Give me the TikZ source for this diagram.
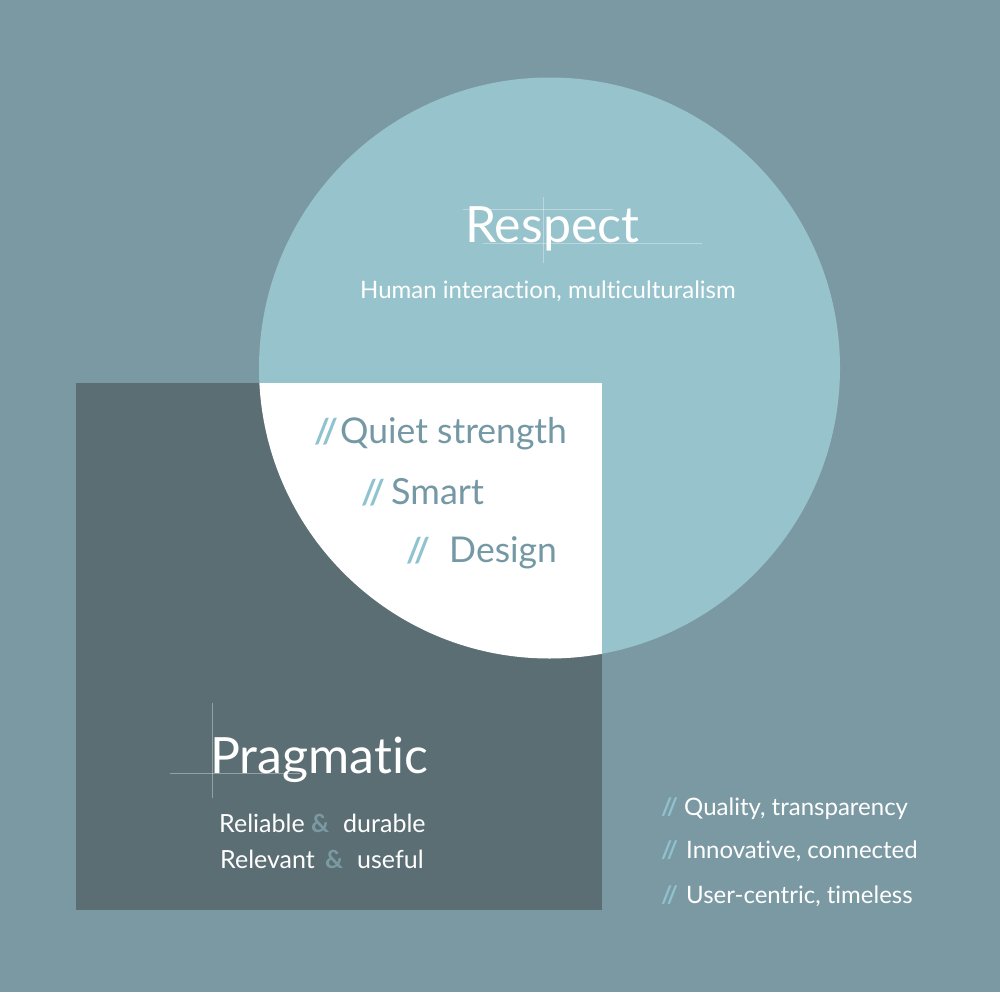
\documentclass[tikz,border=0pt]{standalone}
\usepackage{fontspec}
\setmainfont{Lato}[Ligatures={NoCommon}]
\definecolor{bgc}{HTML}{7B99A3}
\definecolor{circc}{HTML}{97C3CC}
\definecolor{sqc}{HTML}{5B6E74}
\definecolor{midtxt}{HTML}{7598A5}
\definecolor{slashc}{HTML}{8FC3CF}
\definecolor{ampc}{HTML}{7B99A3}
\tikzset{
  txt/.style={inner sep=0pt, anchor=base west},
  guide/.style={white, opacity=0.35, line width=0.8pt},
}
\begin{document}
\begin{tikzpicture}[x=1pt,y=-1pt]
\fill[bgc] (0,0) rectangle (1000,992);
\useasboundingbox (0,0) rectangle (1000,992);
\fill[circc] (549.5,368) circle[radius=290.5pt];
\fill[sqc] (76,383) rectangle (602,910);
\begin{scope}
  \clip (549.5,368) circle[radius=290.5pt];
  \fill[white] (76,383) rectangle (602,910);
\end{scope}
% guide lines
\draw[guide] (543,197) -- (543,263);
\draw[guide] (463,209) -- (613,209);
\draw[guide] (483,243) -- (702,243);
\draw[guide] (212,703) -- (212,798);
\draw[guide] (170,773) -- (300,773);
% Respect
\node[txt, font=\fontsize{50}{50}\selectfont, white] (respect) at (465,243) {Respect};
\node[txt, font=\fontsize{24}{24}\selectfont, white] (human) at (360,298) {Human interaction, multiculturalism};
% centre
\node[txt, font=\fontsize{34}{34}\selectfont\bfseries, slashc] (s1) at (314,443) {//};
\node[txt, font=\fontsize{35.5}{35}\selectfont, midtxt] (quiet) at (340,443) {Quiet strength};
\node[txt, font=\fontsize{34}{34}\selectfont\bfseries, slashc] (s2) at (361,504) {//};
\node[txt, font=\fontsize{36}{36}\selectfont, midtxt] (smart) at (391,504) {Smart};
\node[txt, font=\fontsize{34}{34}\selectfont\bfseries, slashc] (s3) at (406,562) {//};
\node[txt, font=\fontsize{35.5}{35}\selectfont, midtxt] (design) at (449,562) {Design};
% Pragmatic
\node[txt, font=\fontsize{50}{50}\selectfont, white] (prag) at (210,773) {Pragmatic};
\node[txt, font=\fontsize{25}{25}\selectfont, white] (rel1a) at (219,832) {Reliable};
\node[txt, font=\fontsize{25}{25}\selectfont\bfseries, ampc] (amp1) at (311,832) {\&};
\node[txt, font=\fontsize{25}{25}\selectfont, white] (rel1b) at (343,832) {durable};
\node[txt, font=\fontsize{25}{25}\selectfont, white] (rel2a) at (220,868) {Relevant};
\node[txt, font=\fontsize{25}{25}\selectfont\bfseries, ampc] (amp2) at (325,868) {\&};
\node[txt, font=\fontsize{25}{25}\selectfont, white] (rel2b) at (357,868) {useful};
% right list
\node[txt, font=\fontsize{24}{24}\selectfont\bfseries, slashc] (r1s) at (661,815) {//};
\node[txt, font=\fontsize{24}{24}\selectfont, white] (r1) at (684,815) {Quality, transparency};
\node[txt, font=\fontsize{24}{24}\selectfont\bfseries, slashc] (r2s) at (661,858) {//};
\node[txt, font=\fontsize{24}{24}\selectfont, white] (r2) at (686,858) {Innovative, connected};
\node[txt, font=\fontsize{24}{24}\selectfont\bfseries, slashc] (r3s) at (661,903) {//};
\node[txt, font=\fontsize{24}{24}\selectfont, white] (r3) at (686,903) {User-centric, timeless};
\end{tikzpicture}
\end{document}
